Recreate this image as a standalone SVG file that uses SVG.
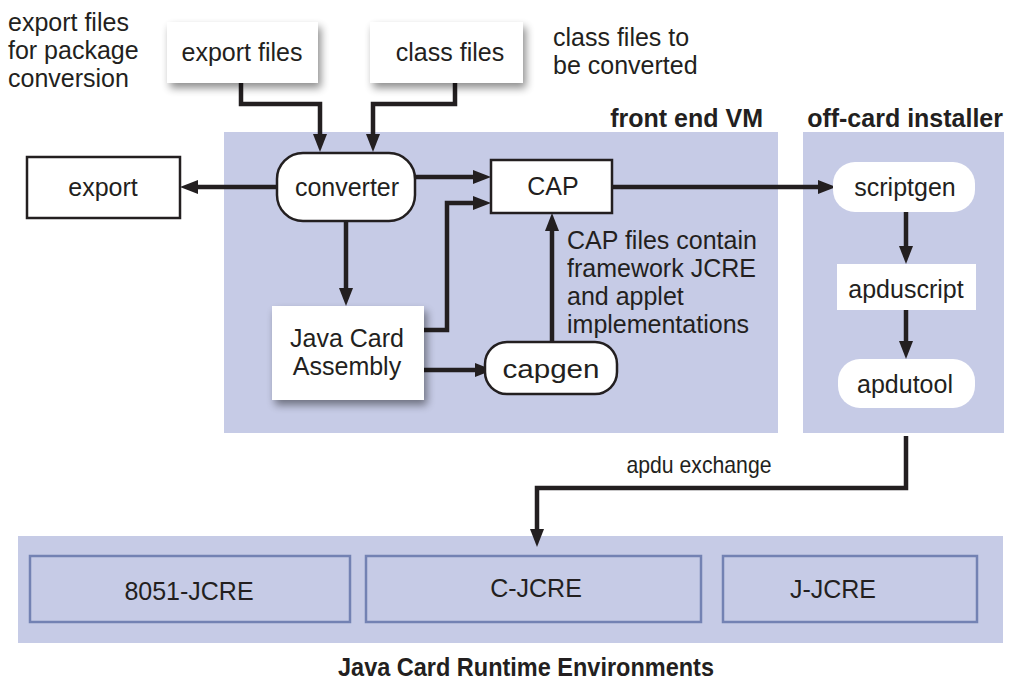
<svg xmlns="http://www.w3.org/2000/svg" width="1010" height="680" viewBox="0 0 1010 680">
<style>
.t{font-family:"Liberation Sans",Arial,sans-serif;font-size:25px;fill:#231f20}
.c{text-anchor:middle}
.b{font-weight:bold}
.n{font-family:"Liberation Sans",Arial,sans-serif;fill:#231f20}
.panel{fill:#c6cbe6}
.box{fill:#fff;stroke:#231f20;stroke-width:2.5}
.wbox{fill:#fff}
.jbox{fill:#c6cbe6;stroke:#7382b3;stroke-width:2.5}
.ln{fill:none;stroke:#231f20;stroke-width:4.5}
</style>
<defs>
<marker id="ah" markerUnits="userSpaceOnUse" markerWidth="20" markerHeight="16" refX="0" refY="7" orient="auto" viewBox="0 0 20 14">
<path d="M0,0 L18,7 L0,14 Z" fill="#231f20"/>
</marker>
<filter id="sh" x="-20%" y="-20%" width="150%" height="160%">
<feGaussianBlur in="SourceAlpha" stdDeviation="4"/>
<feOffset dx="3" dy="5" result="b"/>
<feComponentTransfer><feFuncA type="linear" slope="0.45"/></feComponentTransfer>
<feMerge><feMergeNode/><feMergeNode in="SourceGraphic"/></feMerge>
</filter>
</defs>
<rect width="1010" height="680" fill="#fff"/>

<g id="panels">
<rect class="panel" x="224" y="132" width="554" height="301"/>
<rect class="panel" x="803" y="132" width="201" height="301"/>
<rect class="panel" x="18" y="536" width="985" height="107"/>
<text class="t b" x="763" y="127" text-anchor="end">front end VM</text>
<text class="t b" x="1003" y="127" text-anchor="end">off-card installer</text>
<text class="t b c" x="526" y="676" textLength="376" lengthAdjust="spacingAndGlyphs">Java Card Runtime Environments</text>
</g>

<g id="notes">
<text class="t" x="8" y="31">export files</text>
<text class="t" x="8" y="59">for package</text>
<text class="t" x="8" y="87">conversion</text>
<text class="t" x="553" y="46">class files to</text>
<text class="t" x="553" y="74">be converted</text>
<text class="t" x="567" y="249">CAP files contain</text>
<text class="t" x="567" y="277">framework JCRE</text>
<text class="t" x="567" y="305">and applet</text>
<text class="t" x="567" y="333">implementations</text>
<text class="n c" x="699" y="473" font-size="24" textLength="145" lengthAdjust="spacingAndGlyphs">apdu exchange</text>
</g>

<g id="connectors">
<polyline class="ln" points="241,83 241,104 320,104 320,134" marker-end="url(#ah)"/>
<polyline class="ln" points="455,83 455,104 373,104 373,134" marker-end="url(#ah)"/>
<line class="ln" x1="277" y1="187" x2="198" y2="187" marker-end="url(#ah)"/>
<line class="ln" x1="415" y1="177" x2="473" y2="177" marker-end="url(#ah)"/>
<line class="ln" x1="346" y1="221" x2="346" y2="288" marker-end="url(#ah)"/>
<polyline class="ln" points="424,330 447,330 447,203 473,203" marker-end="url(#ah)"/>
<line class="ln" x1="424" y1="370" x2="475" y2="370" marker-end="url(#ah)"/>
<line class="ln" x1="552" y1="342" x2="552" y2="231" marker-end="url(#ah)"/>
<line class="ln" x1="612" y1="187" x2="818" y2="187" marker-end="url(#ah)"/>
<line class="ln" x1="906" y1="212" x2="906" y2="246" marker-end="url(#ah)"/>
<line class="ln" x1="906" y1="310" x2="906" y2="341" marker-end="url(#ah)"/>
<polyline class="ln" points="906,436 906,488 537,488 537,529" marker-end="url(#ah)"/>
</g>

<g id="export-files"><rect class="wbox" x="167" y="22" width="151" height="61" filter="url(#sh)"/><text class="t c" x="242" y="61">export files</text></g>
<g id="class-files"><rect class="wbox" x="370" y="22" width="153" height="61" filter="url(#sh)"/><text class="t c" x="450" y="61">class files</text></g>
<g id="export"><rect class="box" x="27" y="157" width="153" height="61"/><text class="t c" x="103" y="196">export</text></g>
<g id="converter"><rect class="box" x="277" y="153" width="138" height="68" rx="26"/><text class="t c" x="347" y="196">converter</text></g>
<g id="cap"><rect class="box" x="491" y="160" width="121" height="53"/><text class="t c" x="553" y="195">CAP</text></g>
<g id="jca"><rect class="wbox" x="272" y="306" width="152" height="94" filter="url(#sh)"/><text class="t c" x="347" y="347">Java Card</text><text class="t c" x="347" y="375">Assembly</text></g>
<g id="capgen"><rect class="box" x="485" y="342" width="132" height="52" rx="22"/><text class="t c" x="551" y="378" font-size="28" textLength="97" lengthAdjust="spacingAndGlyphs">capgen</text></g>
<g id="scriptgen"><rect class="wbox" x="833" y="162" width="142" height="50" rx="22"/><text class="t c" x="905" y="196">scriptgen</text></g>
<g id="apduscript"><rect class="wbox" x="837" y="264" width="139" height="46"/><text class="t c" x="906" y="298">apduscript</text></g>
<g id="apdutool"><rect class="wbox" x="838" y="359" width="137" height="49" rx="22"/><text class="t c" x="905" y="393">apdutool</text></g>

<g id="jcre-8051"><rect class="jbox" x="30" y="556" width="320" height="66"/><text class="t c" x="189" y="600">8051-JCRE</text></g>
<g id="jcre-c"><rect class="jbox" x="366" y="556" width="335" height="66"/><text class="t c" x="536" y="597">C-JCRE</text></g>
<g id="jcre-j"><rect class="jbox" x="723" y="556" width="254" height="66"/><text class="t c" x="833" y="598">J-JCRE</text></g>
</svg>
